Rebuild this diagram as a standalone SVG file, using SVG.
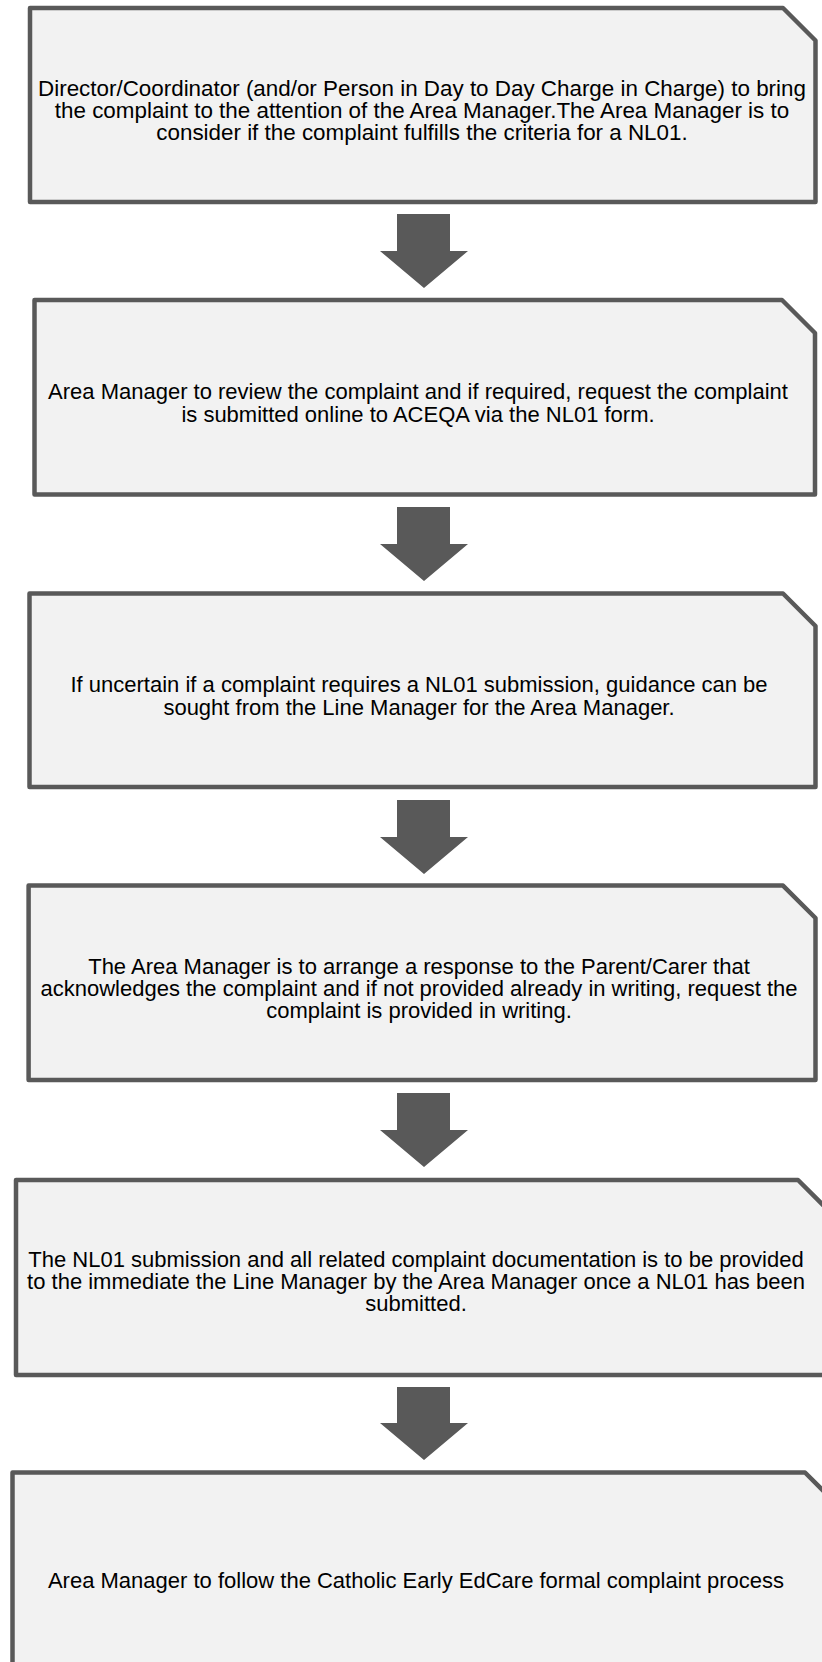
<svg xmlns="http://www.w3.org/2000/svg" width="822" height="1662" viewBox="0 0 822 1662">
<style>
.box{fill:#f2f2f2;stroke:#595959;stroke-width:4.5;stroke-linejoin:round}
.arr{fill:#595959}
.t{font-family:"Liberation Sans",Arial,sans-serif;font-size:22px;fill:#000;text-anchor:middle}
.t1{font-size:22.4px}
</style>
<rect width="822" height="1662" fill="#fff"/>
<g id="connectors">
<path class="arr" d="M397,214 H450 V251 H468 L424,288 L380,251 H397 Z"/>
<path class="arr" d="M397,507 H450 V544 H468 L424,581 L380,544 H397 Z"/>
<path class="arr" d="M397,800 H450 V837 H468 L424,874 L380,837 H397 Z"/>
<path class="arr" d="M397,1093 H450 V1130 H468 L424,1167 L380,1130 H397 Z"/>
<path class="arr" d="M397,1387 H450 V1423 H468 L424,1460 L380,1423 H397 Z"/>
</g>
<g id="node1">
<path class="box" d="M30,8 H783 L815.5,40.5 V202 H30 Z"/>
<text class="t t1" x="422" y="96">Director/Coordinator (and/or Person in Day to Day Charge in Charge) to bring</text>
<text class="t t1" x="422" y="118">the complaint to the attention of the Area Manager.The Area Manager is to</text>
<text class="t t1" x="422" y="140">consider if the complaint fulfills the criteria for a NL01.</text>
</g>
<g id="node2">
<path class="box" d="M34.5,300 H782 L815,333 V494.5 H34.5 Z"/>
<text class="t" x="418" y="399">Area Manager to review the complaint and if required, request the complaint</text>
<text class="t" x="418" y="422">is submitted online to ACEQA via the NL01 form.</text>
</g>
<g id="node3">
<path class="box" d="M29.5,593.5 H783 L815.5,626 V787 H29.5 Z"/>
<text class="t" x="419" y="692">If uncertain if a complaint requires a NL01 submission, guidance can be</text>
<text class="t" x="419" y="715">sought from the Line Manager for the Area Manager.</text>
</g>
<g id="node4">
<path class="box" d="M28.6,885.6 H783 L815.5,918 V1080 H28.6 Z"/>
<text class="t" x="419" y="974">The Area Manager is to arrange a response to the Parent/Carer that</text>
<text class="t" x="419" y="996">acknowledges the complaint and if not provided already in writing, request the</text>
<text class="t" x="419" y="1018">complaint is provided in writing.</text>
</g>
<g id="node5">
<path class="box" d="M16,1180 H798 L830,1212 V1375 H16 Z"/>
<text class="t" x="416" y="1267">The NL01 submission and all related complaint documentation is to be provided</text>
<text class="t" x="416" y="1289">to the immediate the Line Manager by the Area Manager once a NL01 has been</text>
<text class="t" x="416" y="1311">submitted.</text>
</g>
<g id="node6">
<path class="box" d="M12.5,1472.5 H805 L837,1504.5 V1670 H12.5 Z"/>
<text class="t" x="416" y="1588">Area Manager to follow the Catholic Early EdCare formal complaint process</text>
</g>
</svg>
